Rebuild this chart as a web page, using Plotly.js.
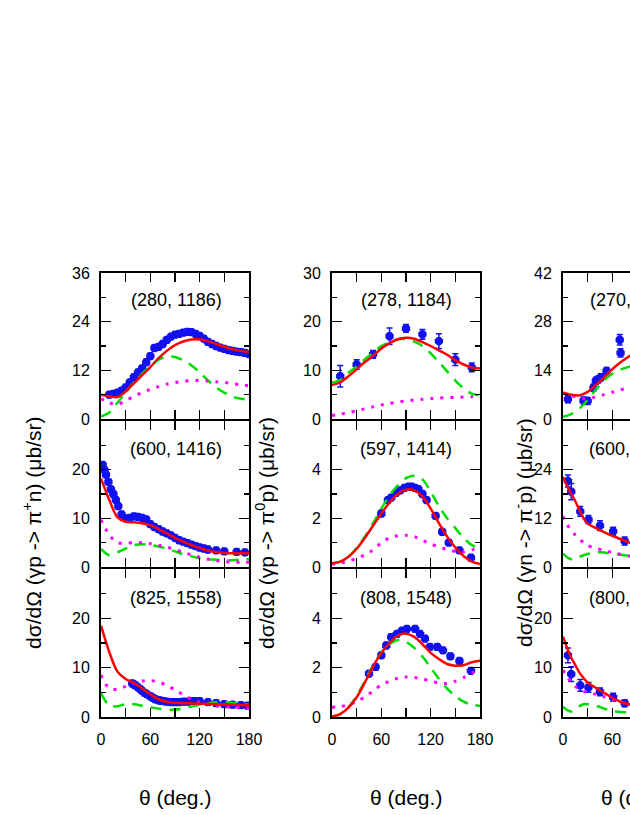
<!DOCTYPE html>
<html><head><meta charset="utf-8">
<script src="https://cdn.plot.ly/plotly-3.0.1.min.js"></script>
<style>html,body{margin:0;padding:0;overflow:hidden;background:#fff}</style>
</head><body><div id="chart" style="width:760px;height:815px"></div>
<script>
// ---------- DATA ----------
var panelLabels = ["(280, 1186)","(600, 1416)","(825, 1558)","(278, 1184)","(597, 1414)","(808, 1548)","(270, 1179)","(600, 1418)","(800, 1545)"];
var yTitles = ["dσ/dΩ (γp -> π<sup>+</sup>n) (μb/sr)","dσ/dΩ (γp -> π<sup>0</sup>p) (μb/sr)","dσ/dΩ (γn -> π<sup>-</sup>p) (μb/sr)"];
var xTitle = "θ (deg.)";
var xTickVals = [0,30,60,90,120,150,180];
var xTickText = ["0","","60","","120","","180"];

var gridA = [0,10,20,30,40,50,60,70,80,90,100,110,120,130,140,150,160,170,180];
var gridB = [0,5,10,15,20,25,30,40,50,60,70,80,90];
var gridC = [0,10,20,30,40,50,60,70,80,90];

// panel 1: gamma p -> pi+ n, 280 MeV
var p1_th = [10,15,20,25,30,35,40,45,50,55,60,65,70,75,80,85,90,95,100,105,110,115,120,125,130,135,140,145,150,155,160,165,170,175,180];
var p1_v  = [6.0,6.2,6.5,7.0,7.8,9.0,10.3,11.5,12.5,14.0,15.5,17.5,17.8,18.5,19.5,20.3,20.8,21.0,21.3,21.5,21.4,21.0,20.5,19.8,19.0,18.5,18.0,17.6,17.3,17.0,16.8,16.6,16.5,16.3,16.0];
var p1_red   = [6.0,5.6,5.4,6.8,8.8,10.8,12.8,15.0,16.8,18.2,19.1,19.6,19.6,19.2,18.5,17.8,17.2,16.8,16.5];
var p1_green = [0.6,1.6,4.0,6.6,9.0,11.2,13.0,14.6,15.4,15.3,14.5,13.2,11.5,9.5,7.8,6.5,5.5,5.0,4.7];
var p1_mag   = [5.0,4.0,3.6,4.5,5.6,6.5,7.3,8.0,8.6,9.0,9.3,9.5,9.5,9.4,9.2,9.0,8.7,8.4,8.2];

// panel 2: 600 MeV
var p2_th = [2,4,6,9,12,15,18,21,25,30,35,40,45,50,55,60,65,70,75,80,85,90,95,100,105,110,115,120,125,130,140,150,165,175];
var p2_v  = [21,20,19,17.5,16,15,13.8,12.5,10.8,10,10.1,10.4,10.3,10.1,9.8,8.8,8.2,7.8,7.3,6.9,6.5,6.0,5.5,5.2,4.9,4.6,4.3,4.0,3.8,3.6,3.4,3.2,3.1,3.0];
var p2_red   = [18.2,13.8,10.2,9.3,9.2,9.0,8.6,7.8,6.9,6.0,5.2,4.5,3.9,3.4,3.1,2.9,2.8,2.8,2.8];
var p2_green = [3.7,2.4,3.0,3.8,4.5,4.7,4.5,4.2,3.8,3.2,2.6,2.2,1.8,1.6,1.5,1.4,1.4,1.5,1.6];
var p2_mag   = [9.7,6.6,5.0,4.9,5.0,5.0,4.8,4.5,4.1,3.6,3.0,2.5,2.0,1.6,1.3,1.1,1.0,1.0,1.0];

// panel 3: 825 MeV
var p3_th = [38,40,42,45,48,50,53,56,60,63,66,70,73,76,80,85,90,95,100,105,110,115,120,130,140,150,160,170,178];
var p3_v  = [6.8,6.6,6.4,6.0,5.6,5.3,4.9,4.6,4.2,3.9,3.6,3.4,3.3,3.2,3.1,3.0,3.0,3.0,3.1,3.1,3.2,3.2,3.2,3.0,2.8,2.6,2.5,2.4,2.3];
var p3_red   = [18.5,13.2,9.2,7.7,6.9,5.8,4.6,3.6,3.1,2.9,2.8,2.75,2.7,2.65,2.6,2.55,2.5,2.45,2.4];
var p3_green = [4.8,2.3,2.2,2.6,2.6,2.3,2.0,1.7,1.5,1.5,1.7,2.1,2.5,2.8,3.0,3.0,2.9,2.7,2.5];
var p3_mag   = [8.5,5.8,5.6,6.2,6.9,7.3,7.4,7.1,6.4,5.5,4.5,3.6,3.0,2.6,2.3,2.1,2.0,1.9,1.8];

// panel 4: gamma p -> pi0 p, 278 MeV
var p4_th  = [10,30,50,70,90,110,130,150,170];
var p4_v   = [8.8,11.2,13.3,17.0,18.6,17.4,16.0,12.2,10.6];
var p4_err = [2.2,1.0,0.8,1.7,0.8,1.0,1.5,1.2,0.9];
var p4_red   = [7.0,7.5,8.8,10.2,11.7,13.0,14.5,15.6,16.4,16.7,16.5,15.8,15.0,14.1,13.2,12.1,11.2,10.6,10.4];
var p4_green = [7.5,8.0,9.5,10.8,12.3,13.6,15.0,15.8,16.4,16.4,15.9,15.0,13.5,11.7,9.8,7.9,6.3,5.2,4.8];
var p4_mag   = [0.7,1.0,1.3,1.7,2.1,2.5,2.9,3.2,3.5,3.7,3.9,4.05,4.2,4.3,4.4,4.45,4.5,4.55,4.6];

// panel 5: 597 MeV
var p5_th = [60,68,72,78,83,88,93,97,101,105,110,115,126,134,142,155,169];
var p5_v  = [2.2,2.75,2.85,3.05,3.15,3.25,3.3,3.3,3.25,3.2,3.0,2.75,2.1,1.45,1.0,0.68,0.38];
var p5_red   = [0.15,0.22,0.42,0.75,1.2,1.7,2.2,2.65,3.0,3.18,3.15,2.9,2.4,1.8,1.25,0.8,0.45,0.22,0.12];
var p5_green = [0.15,0.22,0.42,0.78,1.25,1.8,2.4,2.95,3.35,3.65,3.75,3.6,3.1,2.5,2.0,1.6,1.2,0.9,0.8];
var p5_mag   = [0.12,0.15,0.25,0.35,0.5,0.7,1.0,1.2,1.28,1.3,1.25,1.1,0.95,0.82,0.72,0.64,0.62,0.7,0.88];

// panel 6: 808 MeV
var p6_th = [45,53,60,66,72,79,85,91,101,107,113,119,128,135,144,155,169];
var p6_v  = [1.76,2.03,2.5,2.9,3.24,3.37,3.5,3.57,3.57,3.37,3.18,2.84,2.84,2.7,2.46,2.27,1.87];
var p6_red   = [0.02,0.12,0.38,0.8,1.4,2.05,2.6,3.0,3.3,3.38,3.25,2.95,2.6,2.35,2.15,2.08,2.1,2.22,2.28];
var p6_green = [0.02,0.12,0.4,0.85,1.45,2.1,2.6,2.95,3.12,3.05,2.8,2.45,2.0,1.55,1.15,0.85,0.62,0.5,0.45];
var p6_mag   = [0.4,0.42,0.5,0.62,0.82,1.05,1.3,1.45,1.57,1.62,1.6,1.55,1.45,1.38,1.36,1.45,1.6,1.78,1.98];

// panel 7: gamma n -> pi- p, 270 MeV (visible part)
var p7_th  = [6,25,30,37,40,43,46,53,69,70];
var p7_v   = [5.7,5.3,5.2,9.0,11.0,11.4,12.0,13.8,22.8,19.0];
var p7_err = [1,1,1,1,1,1,1,1,1.5,1.2];
var p7_red   = [7.6,7.0,6.8,7.8,9.8,12.0,14.3,16.3,18.0,19.5];
var p7_green = [0.6,1.4,3.0,5.5,8.5,11.2,13.0,14.2,15.0,15.5];
var p7_mag   = [7.5,6.8,6.0,5.8,6.4,7.0,7.7,8.4,9.0,9.4];

// panel 8: 600 MeV
var p8_th  = [6,10,21,31,45,61,75];
var p8_v   = [21.2,18.6,13.7,11.7,10.2,8.8,6.4];
var p8_err = [1.5,2.0,1.2,1.0,1.2,1.0,1.0];
var p8_red   = [22.2,20,18,16.2,14,12,10.7,9.6,8.6,7.7,6.9,6.1,5.4];
var p8_green = [3.3,2.4,1.9,2.0,2.5,2.9,3.2,3.6,3.6,3.3,3.0,2.8,2.6];
var p8_mag   = [12.5,10.5,9.0,7.9,6.9,6.0,5.3,4.6,4.1,3.6,3.1,2.7,2.4];

// panel 9: 800 MeV
var p9_th  = [6,10,21,31,45,61,75];
var p9_v   = [12.5,8.7,6.4,6.0,5.1,4.0,2.8];
var p9_err = [1.5,1.5,1.2,1.0,0.8,0.8,0.7];
var p9_red   = [16.3,14,12,10.5,9.0,7.9,7.0,5.9,4.9,3.9,3.1,2.6,2.3];
var p9_green = [2.1,1.4,1.1,1.4,2.2,2.6,2.6,2.3,1.7,1.2,1.0,1.0,1.1];
var p9_mag   = [9.5,8.2,7.0,6.2,5.6,5.2,5.0,4.6,4.1,3.5,3.0,2.6,2.3];

// y axes: range, labelled ticks, minor ticks
var yRanges = [[0,36],[0,30],[0,30],[0,30],[0,6],[0,6],[0,42],[0,36],[0,30]];
var yTickVals = [[0,12,24,36],[0,10,20],[0,10,20],[0,10,20,30],[0,2,4],[0,2,4],[0,14,28,42],[0,12,24],[0,10,20]];
var yMinorVals = [[6,18,30],[5,15,25],[5,15,25],[5,15,25],[1,3,5],[1,3,5],[7,21,35],[6,18,30],[5,15,25]];

// ---------- BUILD ----------
var W = 760, H = 815;
var colX = [[101,249],[332,480],[563,711]];
var rowY = [[273,419],[421,567],[569,717]];
var FONT = "Liberation Sans, Arial, sans-serif";
var BLUE = "#1010f0", RED = "#ff0000", GREEN = "#00dd00", MAG = "#ff00ff";

var panels = [
  {th:p1_th, v:p1_v, err:null, g:gridA, red:p1_red, green:p1_green, mag:p1_mag},
  {th:p2_th, v:p2_v, err:null, g:gridA, red:p2_red, green:p2_green, mag:p2_mag},
  {th:p3_th, v:p3_v, err:null, g:gridA, red:p3_red, green:p3_green, mag:p3_mag},
  {th:p4_th, v:p4_v, err:p4_err, g:gridA, red:p4_red, green:p4_green, mag:p4_mag},
  {th:p5_th, v:p5_v, err:null, g:gridA, red:p5_red, green:p5_green, mag:p5_mag},
  {th:p6_th, v:p6_v, err:null, g:gridA, red:p6_red, green:p6_green, mag:p6_mag},
  {th:p7_th, v:p7_v, err:p7_err, g:gridC, red:p7_red, green:p7_green, mag:p7_mag},
  {th:p8_th, v:p8_v, err:p8_err, g:gridB, red:p8_red, green:p8_green, mag:p8_mag},
  {th:p9_th, v:p9_v, err:p9_err, g:gridB, red:p9_red, green:p9_green, mag:p9_mag}
];

var traces = [];
var layout = {
  width: W, height: H, margin:{l:0,r:0,t:0,b:0},
  paper_bgcolor:"#fff", plot_bgcolor:"#fff", showlegend:false,
  font:{family:FONT, size:16, color:"#000"},
  annotations:[]
};

panels.forEach(function(p, i){
  var k = i+1, col = Math.floor(i/3), row = i%3;
  var xa = k===1 ? "x" : "x"+k, ya = k===1 ? "y" : "y"+k;
  var xk = k===1 ? "xaxis" : "xaxis"+k, yk = k===1 ? "yaxis" : "yaxis"+k;
  var sc = (yRanges[i][1]-yRanges[i][0]);
  var errs = p.err ? p.err : p.v.map(function(){ return sc*0.02; });
  traces.push({x:p.th, y:p.v, xaxis:xa, yaxis:ya, type:"scatter", mode:"markers",
    marker:{symbol:"octagon", size:9, color:BLUE},
    error_y:{type:"data", array:errs, visible:true, color:BLUE, thickness:1.5, width:3}});
  traces.push({x:p.g, y:p.green, xaxis:xa, yaxis:ya, type:"scatter", mode:"lines",
    line:{color:GREEN, width:2.5, dash:"11px,8px", shape:"spline", smoothing:0.8}});
  traces.push({x:p.g, y:p.mag, xaxis:xa, yaxis:ya, type:"scatter", mode:"lines",
    line:{color:MAG, width:3, dash:"3px,7px", shape:"spline", smoothing:0.8}});
  traces.push({x:p.g, y:p.red, xaxis:xa, yaxis:ya, type:"scatter", mode:"lines",
    line:{color:RED, width:2.5, shape:"spline", smoothing:0.8}});

  var cx = colX[col], cy = rowY[row];
  layout[xk] = {domain:[cx[0]/W, cx[1]/W], range:[0,180], anchor:ya,
    showline:true, linewidth:2, linecolor:"#000", mirror:"allticks",
    ticks:"inside", ticklen:9, tickwidth:1.5, tickcolor:"#000",
    tickmode:"array", tickvals:xTickVals, ticktext:xTickText,
    showticklabels: row===2, ticklabelstandoff:7,
    tickfont:{family:FONT, size:16, color:"#000"},
    showgrid:false, zeroline:false, fixedrange:true};
  layout[yk] = {domain:[1-cy[1]/H, 1-cy[0]/H], range:yRanges[i], anchor:xa,
    showline:true, linewidth:2, linecolor:"#000", mirror:"allticks",
    ticks:"inside", ticklen:10, tickwidth:1.5, tickcolor:"#000",
    tickmode:"array", tickvals:yTickVals[i], ticktext:yTickVals[i].map(String),
    minor:{ticks:"inside", ticklen:5, tickwidth:1.5, tickcolor:"#000", tickmode:"array", tickvals:yMinorVals[i], showgrid:false},
    ticklabelstandoff:6,
    tickfont:{family:FONT, size:16, color:"#000"},
    showgrid:false, zeroline:false, fixedrange:true};

  var labY = [300,449,598][row];
  var labX = [176,406,635][col];
  layout.annotations.push({text:panelLabels[i], xref:"paper", yref:"paper",
    x:labX/W, y:1-labY/H, xanchor:"center", yanchor:"middle", showarrow:false,
    font:{family:FONT, size:18, color:"#000"}});
});

var xtX = [175,406,637];
var ytX = [32,265,523];
xtX.forEach(function(xx){
  layout.annotations.push({text:xTitle, xref:"paper", yref:"paper", x:xx/W, y:1-797/H,
    xanchor:"center", yanchor:"middle", showarrow:false, font:{family:FONT, size:21, color:"#000"}});
});
ytX.forEach(function(xx, j){
  layout.annotations.push({text:yTitles[j], xref:"paper", yref:"paper", x:xx/W, y:1-533/H,
    xanchor:"center", yanchor:"middle", textangle:-90, showarrow:false, font:{family:FONT, size:21, color:"#000"}});
});

Plotly.newPlot("chart", traces, layout, {staticPlot:true, displayModeBar:false});
</script></body></html>
